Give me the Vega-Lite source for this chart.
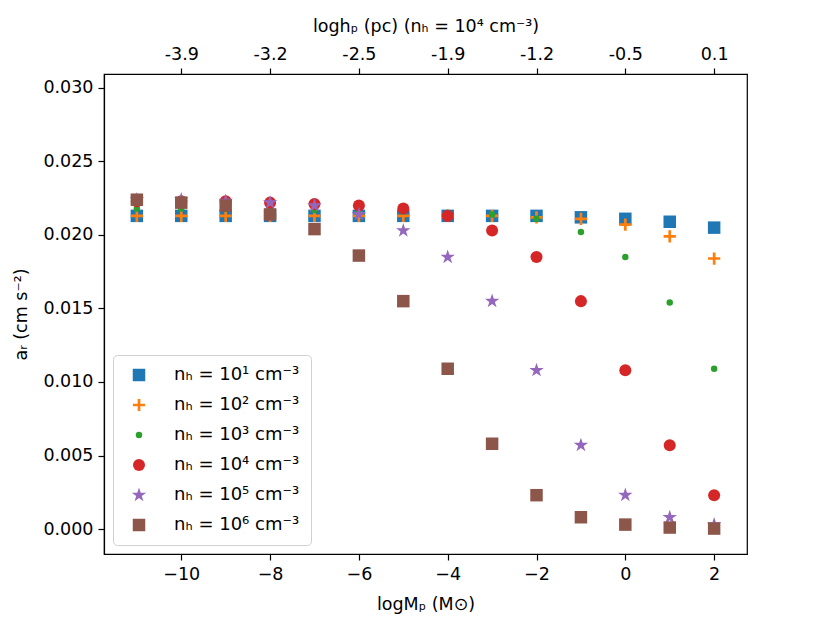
{
  "$schema": "https://vega.github.io/schema/vega-lite/v6.json",
  "autosize": "none",
  "width": 643,
  "height": 480,
  "padding": {"left": 104, "top": 74, "right": 83, "bottom": 69},
  "background": "white",
  "config": {
    "font": "DejaVu Sans",
    "view": {"stroke": "black", "strokeWidth": 1.2},
    "axis": {
      "grid": false,
      "domainColor": "black",
      "domainWidth": 1.2,
      "tickColor": "black",
      "tickWidth": 1.2,
      "tickSize": 6,
      "labelPadding": 5,
      "labelFont": "DejaVu Sans",
      "labelFontSize": 17.5,
      "labelColor": "black",
      "titleFont": "DejaVu Sans",
      "titleFontSize": 17.5,
      "titleFontWeight": "normal",
      "titleColor": "black"
    }
  },
  "data": {
    "values": [
      {"x": -11, "a": 0.0213, "n": "nₕ = 10¹ cm⁻³"},
      {"x": -10, "a": 0.0213, "n": "nₕ = 10¹ cm⁻³"},
      {"x": -9, "a": 0.0213, "n": "nₕ = 10¹ cm⁻³"},
      {"x": -8, "a": 0.0213, "n": "nₕ = 10¹ cm⁻³"},
      {"x": -7, "a": 0.0213, "n": "nₕ = 10¹ cm⁻³"},
      {"x": -6, "a": 0.0213, "n": "nₕ = 10¹ cm⁻³"},
      {"x": -5, "a": 0.0213, "n": "nₕ = 10¹ cm⁻³"},
      {"x": -4, "a": 0.0213, "n": "nₕ = 10¹ cm⁻³"},
      {"x": -3, "a": 0.0213, "n": "nₕ = 10¹ cm⁻³"},
      {"x": -2, "a": 0.0213, "n": "nₕ = 10¹ cm⁻³"},
      {"x": -1, "a": 0.0212, "n": "nₕ = 10¹ cm⁻³"},
      {"x": 0, "a": 0.0211, "n": "nₕ = 10¹ cm⁻³"},
      {"x": 1, "a": 0.0209, "n": "nₕ = 10¹ cm⁻³"},
      {"x": 2, "a": 0.0205, "n": "nₕ = 10¹ cm⁻³"},
      {"x": -11, "a": 0.0213, "n": "nₕ = 10² cm⁻³"},
      {"x": -10, "a": 0.0213, "n": "nₕ = 10² cm⁻³"},
      {"x": -9, "a": 0.0213, "n": "nₕ = 10² cm⁻³"},
      {"x": -8, "a": 0.0213, "n": "nₕ = 10² cm⁻³"},
      {"x": -7, "a": 0.0213, "n": "nₕ = 10² cm⁻³"},
      {"x": -6, "a": 0.0213, "n": "nₕ = 10² cm⁻³"},
      {"x": -5, "a": 0.0213, "n": "nₕ = 10² cm⁻³"},
      {"x": -4, "a": 0.0213, "n": "nₕ = 10² cm⁻³"},
      {"x": -3, "a": 0.0213, "n": "nₕ = 10² cm⁻³"},
      {"x": -2, "a": 0.0212, "n": "nₕ = 10² cm⁻³"},
      {"x": -1, "a": 0.0211, "n": "nₕ = 10² cm⁻³"},
      {"x": 0, "a": 0.0207, "n": "nₕ = 10² cm⁻³"},
      {"x": 1, "a": 0.0199, "n": "nₕ = 10² cm⁻³"},
      {"x": 2, "a": 0.0184, "n": "nₕ = 10² cm⁻³"},
      {"x": -11, "a": 0.0218, "n": "nₕ = 10³ cm⁻³"},
      {"x": -10, "a": 0.0218, "n": "nₕ = 10³ cm⁻³"},
      {"x": -9, "a": 0.0218, "n": "nₕ = 10³ cm⁻³"},
      {"x": -8, "a": 0.0217, "n": "nₕ = 10³ cm⁻³"},
      {"x": -7, "a": 0.0217, "n": "nₕ = 10³ cm⁻³"},
      {"x": -6, "a": 0.0216, "n": "nₕ = 10³ cm⁻³"},
      {"x": -5, "a": 0.0216, "n": "nₕ = 10³ cm⁻³"},
      {"x": -4, "a": 0.0215, "n": "nₕ = 10³ cm⁻³"},
      {"x": -3, "a": 0.0214, "n": "nₕ = 10³ cm⁻³"},
      {"x": -2, "a": 0.0211, "n": "nₕ = 10³ cm⁻³"},
      {"x": -1, "a": 0.0202, "n": "nₕ = 10³ cm⁻³"},
      {"x": 0, "a": 0.0185, "n": "nₕ = 10³ cm⁻³"},
      {"x": 1, "a": 0.0154, "n": "nₕ = 10³ cm⁻³"},
      {"x": 2, "a": 0.0109, "n": "nₕ = 10³ cm⁻³"},
      {"x": -11, "a": 0.0223, "n": "nₕ = 10⁴ cm⁻³"},
      {"x": -10, "a": 0.0223, "n": "nₕ = 10⁴ cm⁻³"},
      {"x": -9, "a": 0.0223, "n": "nₕ = 10⁴ cm⁻³"},
      {"x": -8, "a": 0.0222, "n": "nₕ = 10⁴ cm⁻³"},
      {"x": -7, "a": 0.0221, "n": "nₕ = 10⁴ cm⁻³"},
      {"x": -6, "a": 0.0220, "n": "nₕ = 10⁴ cm⁻³"},
      {"x": -5, "a": 0.0218, "n": "nₕ = 10⁴ cm⁻³"},
      {"x": -4, "a": 0.0213, "n": "nₕ = 10⁴ cm⁻³"},
      {"x": -3, "a": 0.0203, "n": "nₕ = 10⁴ cm⁻³"},
      {"x": -2, "a": 0.0185, "n": "nₕ = 10⁴ cm⁻³"},
      {"x": -1, "a": 0.0155, "n": "nₕ = 10⁴ cm⁻³"},
      {"x": 0, "a": 0.0108, "n": "nₕ = 10⁴ cm⁻³"},
      {"x": 1, "a": 0.0057, "n": "nₕ = 10⁴ cm⁻³"},
      {"x": 2, "a": 0.0023, "n": "nₕ = 10⁴ cm⁻³"},
      {"x": -11, "a": 0.0224, "n": "nₕ = 10⁵ cm⁻³"},
      {"x": -10, "a": 0.0224, "n": "nₕ = 10⁵ cm⁻³"},
      {"x": -9, "a": 0.0223, "n": "nₕ = 10⁵ cm⁻³"},
      {"x": -8, "a": 0.0222, "n": "nₕ = 10⁵ cm⁻³"},
      {"x": -7, "a": 0.0220, "n": "nₕ = 10⁵ cm⁻³"},
      {"x": -6, "a": 0.0214, "n": "nₕ = 10⁵ cm⁻³"},
      {"x": -5, "a": 0.0203, "n": "nₕ = 10⁵ cm⁻³"},
      {"x": -4, "a": 0.0185, "n": "nₕ = 10⁵ cm⁻³"},
      {"x": -3, "a": 0.0155, "n": "nₕ = 10⁵ cm⁻³"},
      {"x": -2, "a": 0.0108, "n": "nₕ = 10⁵ cm⁻³"},
      {"x": -1, "a": 0.0057, "n": "nₕ = 10⁵ cm⁻³"},
      {"x": 0, "a": 0.0023, "n": "nₕ = 10⁵ cm⁻³"},
      {"x": 1, "a": 0.0008, "n": "nₕ = 10⁵ cm⁻³"},
      {"x": 2, "a": 0.0003, "n": "nₕ = 10⁵ cm⁻³"},
      {"x": -11, "a": 0.0224, "n": "nₕ = 10⁶ cm⁻³"},
      {"x": -10, "a": 0.0222, "n": "nₕ = 10⁶ cm⁻³"},
      {"x": -9, "a": 0.0220, "n": "nₕ = 10⁶ cm⁻³"},
      {"x": -8, "a": 0.0214, "n": "nₕ = 10⁶ cm⁻³"},
      {"x": -7, "a": 0.0204, "n": "nₕ = 10⁶ cm⁻³"},
      {"x": -6, "a": 0.0186, "n": "nₕ = 10⁶ cm⁻³"},
      {"x": -5, "a": 0.0155, "n": "nₕ = 10⁶ cm⁻³"},
      {"x": -4, "a": 0.0109, "n": "nₕ = 10⁶ cm⁻³"},
      {"x": -3, "a": 0.0058, "n": "nₕ = 10⁶ cm⁻³"},
      {"x": -2, "a": 0.0023, "n": "nₕ = 10⁶ cm⁻³"},
      {"x": -1, "a": 0.0008, "n": "nₕ = 10⁶ cm⁻³"},
      {"x": 0, "a": 0.0003, "n": "nₕ = 10⁶ cm⁻³"},
      {"x": 1, "a": 0.0001, "n": "nₕ = 10⁶ cm⁻³"},
      {"x": 2, "a": 0.00003, "n": "nₕ = 10⁶ cm⁻³"}
    ]
  },
  "layer": [
    {
      "mark": {"type": "point", "filled": true, "opacity": 1},
      "encoding": {
        "x": {
          "field": "x",
          "type": "quantitative",
          "title": "logMₚ (M⊙)",
          "scale": {"domain": [-11.74, 2.74], "nice": false, "zero": false},
          "axis": {"values": [-10, -8, -6, -4, -2, 0, 2], "titlePadding": 13}
        },
        "y": {
          "field": "a",
          "type": "quantitative",
          "title": "aᵣ (cm s⁻²)",
          "scale": {"domain": [-0.0017, 0.03095], "nice": false, "zero": false},
          "axis": {"values": [0, 0.005, 0.01, 0.015, 0.02, 0.025, 0.03], "format": ".3f", "titlePadding": 12}
        },
        "color": {
          "field": "n",
          "type": "nominal",
          "scale": {
            "domain": ["nₕ = 10¹ cm⁻³", "nₕ = 10² cm⁻³", "nₕ = 10³ cm⁻³", "nₕ = 10⁴ cm⁻³", "nₕ = 10⁵ cm⁻³", "nₕ = 10⁶ cm⁻³"],
            "range": ["#1f77b4", "#ff7f0e", "#2ca02c", "#d62728", "#9467bd", "#8c564b"]
          },
          "legend": {
            "title": null,
            "orient": "none",
            "legendX": 9,
            "legendY": 281,
            "padding": 11,
            "rowPadding": 12,
            "symbolOffset": 6,
            "labelFontSize": 18,
            "labelColor": "black",
            "labelOffset": 26,
            "strokeColor": "#d0d0d0",
            "fillColor": "rgba(255,255,255,0.8)",
            "cornerRadius": 4
          }
        },
        "shape": {
          "field": "n",
          "type": "nominal",
          "scale": {
            "domain": ["nₕ = 10¹ cm⁻³", "nₕ = 10² cm⁻³", "nₕ = 10³ cm⁻³", "nₕ = 10⁴ cm⁻³", "nₕ = 10⁵ cm⁻³", "nₕ = 10⁶ cm⁻³"],
            "range": [
              "square",
              "M-1,-0.22H-0.22V-1H0.22V-0.22H1V0.22H0.22V1H-0.22V0.22H-1Z",
              "circle",
              "circle",
              "M0,-1L0.2245,-0.309L0.9511,-0.309L0.3633,0.118L0.5878,0.809L0,0.382L-0.5878,0.809L-0.3633,0.118L-0.9511,-0.309L-0.2245,-0.309Z",
              "square"
            ]
          }
        },
        "size": {
          "field": "n",
          "type": "nominal",
          "scale": {
            "type": "ordinal",
            "domain": ["nₕ = 10¹ cm⁻³", "nₕ = 10² cm⁻³", "nₕ = 10³ cm⁻³", "nₕ = 10⁴ cm⁻³", "nₕ = 10⁵ cm⁻³", "nₕ = 10⁶ cm⁻³"],
            "range": [156, 150, 42, 145, 230, 156]
          }
        }
      }
    },
    {
      "mark": {"type": "point", "opacity": 0},
      "encoding": {
        "x": {
          "field": "x",
          "type": "quantitative",
          "title": "loghₚ (pc) (nₕ = 10⁴ cm⁻³)",
          "axis": {
            "orient": "top",
            "values": [-10, -8, -6, -4, -2, 0, 2],
            "titlePadding": 10,
            "labelExpr": "datum.value == -10 ? '-3.9' : datum.value == -8 ? '-3.2' : datum.value == -6 ? '-2.5' : datum.value == -4 ? '-1.9' : datum.value == -2 ? '-1.2' : datum.value == 0 ? '-0.5' : '0.1'"
          }
        }
      }
    }
  ],
  "resolve": {"axis": {"x": "independent"}}
}
